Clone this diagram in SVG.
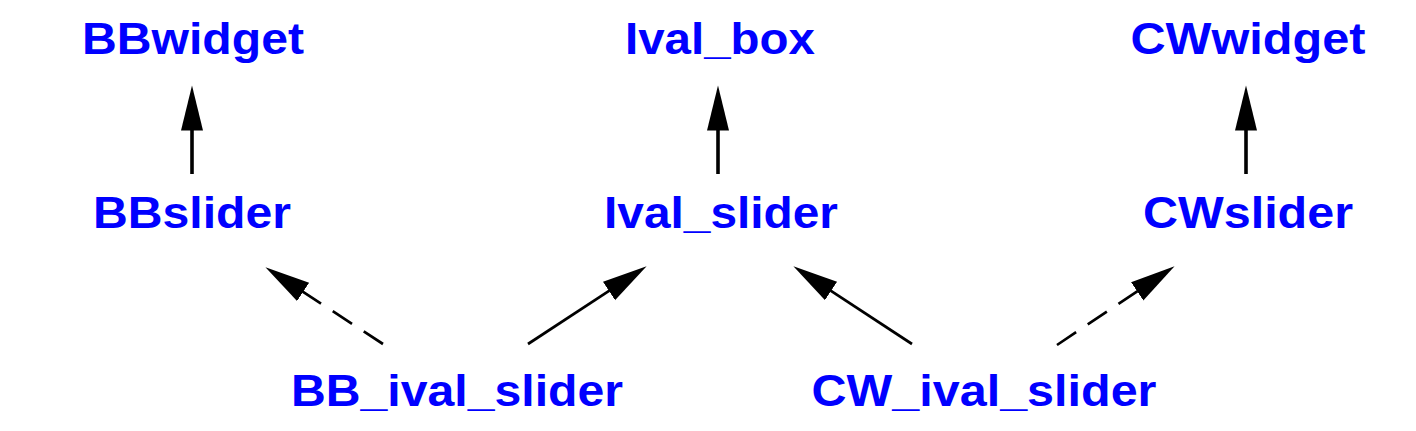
<svg xmlns="http://www.w3.org/2000/svg" width="1416" height="431" viewBox="0 0 1416 431">
<style>
.lbl{font-family:"Liberation Sans",Arial,sans-serif;font-weight:bold;font-size:45px;fill:#0000ff;text-anchor:middle}
.e{stroke:#000;fill:none;stroke-linecap:butt}
.v{stroke-width:3.6}
.d{stroke-width:2.7}
.dash{stroke-dasharray:23 14}
</style>
<defs>
<marker id="ah" markerUnits="userSpaceOnUse" markerWidth="46" markerHeight="24" viewBox="0 0 46 24" refX="0.5" refY="11.5" orient="auto">
<path d="M0,0.5 L45,11.5 L0,22.5 Z" fill="#000"/>
</marker>
</defs>
<rect width="1416" height="431" fill="#fff"/>
<g id="connectors">
<line class="e v" x1="192" y1="174" x2="192" y2="130" marker-end="url(#ah)"/>
<line class="e v" x1="718" y1="174" x2="718" y2="130" marker-end="url(#ah)"/>
<line class="e v" x1="1246" y1="174" x2="1246" y2="130" marker-end="url(#ah)"/>
<line class="e d dash" x1="383" y1="344" x2="302.7" y2="291.6" marker-end="url(#ah)"/>
<line class="e d" x1="528" y1="344" x2="609.4" y2="290.7" marker-end="url(#ah)"/>
<line class="e d" x1="912" y1="344" x2="830.6" y2="290.7" marker-end="url(#ah)"/>
<line class="e d dash" x1="1057" y1="345" x2="1137.6" y2="291" marker-end="url(#ah)"/>
</g>
<g id="BBwidget"><text class="lbl" x="193" y="54" textLength="222" lengthAdjust="spacingAndGlyphs">BBwidget</text></g>
<g id="Ival_box"><text class="lbl" x="720" y="54" textLength="190" lengthAdjust="spacingAndGlyphs">Ival_box</text></g>
<g id="CWwidget"><text class="lbl" x="1248" y="54" textLength="235" lengthAdjust="spacingAndGlyphs">CWwidget</text></g>
<g id="BBslider"><text class="lbl" x="192" y="228" textLength="198" lengthAdjust="spacingAndGlyphs">BBslider</text></g>
<g id="Ival_slider"><text class="lbl" x="721" y="228" textLength="234" lengthAdjust="spacingAndGlyphs">Ival_slider</text></g>
<g id="CWslider"><text class="lbl" x="1248" y="228" textLength="210" lengthAdjust="spacingAndGlyphs">CWslider</text></g>
<g id="BB_ival_slider"><text class="lbl" x="457" y="406" textLength="332" lengthAdjust="spacingAndGlyphs">BB_ival_slider</text></g>
<g id="CW_ival_slider"><text class="lbl" x="984" y="406" textLength="345" lengthAdjust="spacingAndGlyphs">CW_ival_slider</text></g>
</svg>
